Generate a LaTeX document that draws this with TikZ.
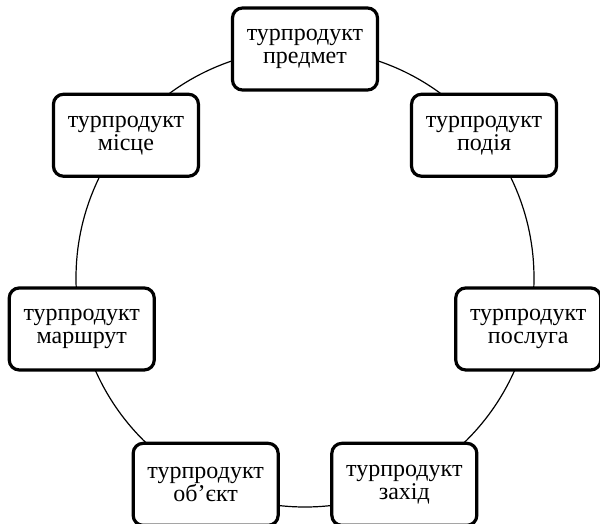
\documentclass[tikz,border=0pt]{standalone}
\usepackage{fontspec}
\setmainfont{Liberation Serif}
\usetikzlibrary{calc}
\begin{document}
\begin{tikzpicture}[x=1pt,y=-1pt,
  prod/.style={draw, line width=3.2pt, rounded corners=10pt, fill=white,
    minimum width=145pt, minimum height=82pt, align=center, inner sep=0pt,
    font=\fontsize{24}{23}\selectfont},
  ring/.style={line width=1.2pt}]
\useasboundingbox (0,0) rectangle (600,523);
\coordinate (c) at (305,278);
\draw[ring] (c) circle[radius=229pt];
\node[prod] (n1) at ($(c)+(90:229pt)$) {турпродукт\\предмет};
\node[prod] (n2) at ($(c)+(38.57:229pt)$) {турпродукт\\подія};
\node[prod] (n3) at ($(c)+(-12.86:229pt)$) {турпродукт\\послуга};
\node[prod] (n4) at ($(c)+(-64.29:229pt)$) {турпродукт\\захід};
\node[prod] (n5) at ($(c)+(-115.71:229pt)$) {турпродукт\\об’єкт};
\node[prod] (n6) at ($(c)+(-167.14:229pt)$) {турпродукт\\маршрут};
\node[prod] (n7) at ($(c)+(141.43:229pt)$) {турпродукт\\місце};
\end{tikzpicture}
\end{document}
